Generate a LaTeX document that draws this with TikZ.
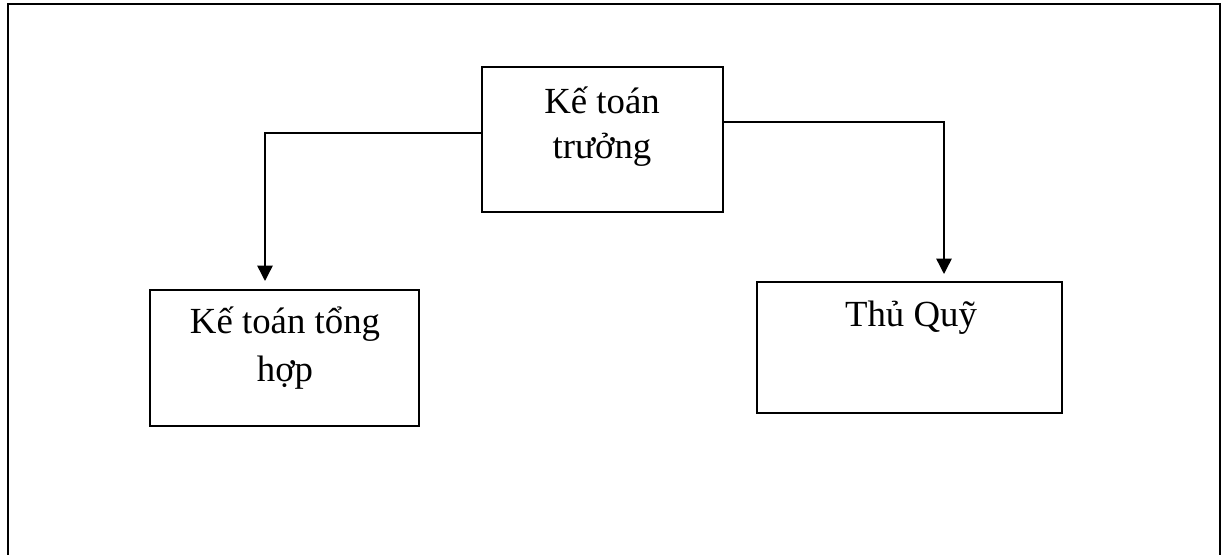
\documentclass[tikz,border=0pt]{standalone}
\usepackage{fontspec}
\setmainfont{Liberation Serif}
\usetikzlibrary{arrows.meta}
\begin{document}
\begin{tikzpicture}[x=0.75pt,y=-0.75pt,
  frame/.style={line width=1.65pt},
  orgbox/.style={draw,line width=1.15pt,rectangle,inner sep=0pt},
  lbl/.style={inner sep=0pt,align=center,font=\fontsize{27.6pt}{34pt}\selectfont},
  conn/.style={line width=1.1pt,-{Triangle[width=11.5pt,length=11.5pt]}}]
  \useasboundingbox (0,0) rectangle (1221,555);
  % outer frame, open at the bottom
  \draw[frame] (8,560) -- (8,4.3) -- (1219.6,4.3) -- (1219.6,560);

  % boxes
  \node[orgbox,minimum width=241*0.75pt,minimum height=145*0.75pt] (ktt) at (602.5,139.5) {};
  \node[orgbox,minimum width=269*0.75pt,minimum height=136*0.75pt] (ktg) at (284.5,358) {};
  \node[orgbox,minimum width=305*0.75pt,minimum height=131*0.75pt] (tq) at (909.5,347.5) {};

  % texts (base anchor sits on the last line)
  \node[lbl,anchor=base,font=\fontsize{27.6pt}{33.75pt}\selectfont] (kttT) at (602,158.3) {Kế toán\\trưởng};
  \node[lbl,anchor=base,font=\fontsize{27.6pt}{36pt}\selectfont] (ktgT) at (285,381.7) {Kế toán tổng\\hợp};
  \node[lbl,anchor=base] (tqT) at (911,326.7) {Thủ Quỹ};

  % connectors
  \coordinate (lbend) at (265,133);
  \coordinate (ltip) at (265,281);
  \coordinate (rbend) at (944,122);
  \coordinate (rtip) at (944,274);
  \draw[conn] (ktt.west |- lbend) -- (lbend) -- (ltip);
  \draw[conn] (ktt.east |- rbend) -- (rbend) -- (rtip);
\end{tikzpicture}
\end{document}
